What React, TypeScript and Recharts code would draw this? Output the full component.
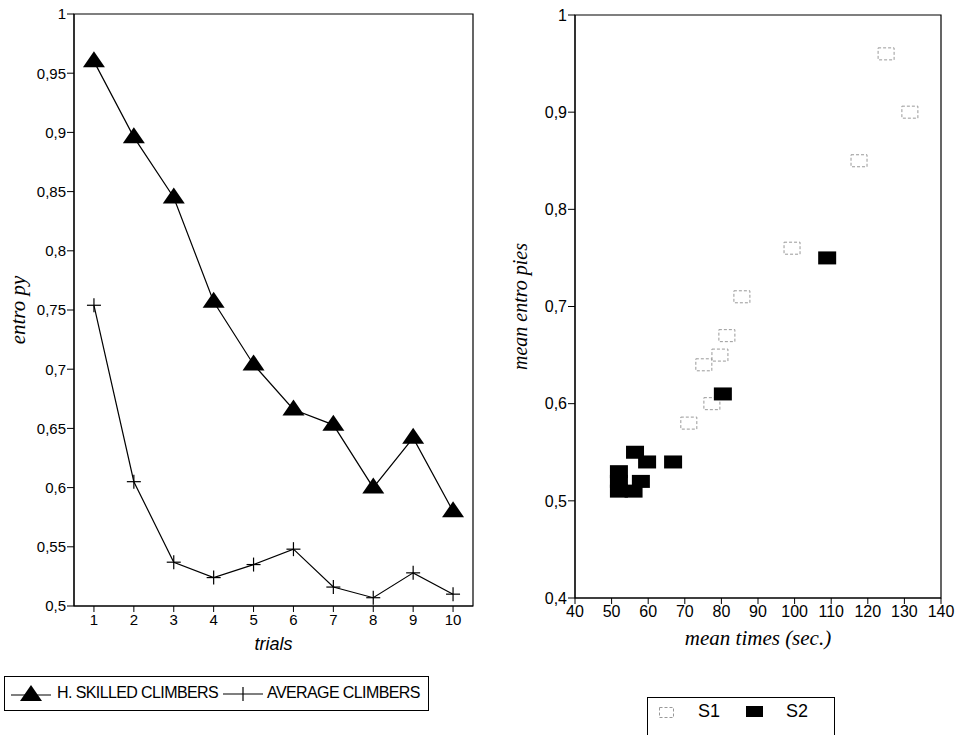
import React from 'react';
import { LineChart, Line, XAxis, YAxis, ReferenceArea, ScatterChart, Scatter, Label } from 'recharts';

// left panel: entropy per trial
const trials = [1, 2, 3, 4, 5, 6, 7, 8, 9, 10];
const skilledEntropy = [0.96, 0.896, 0.845, 0.757, 0.704, 0.666, 0.653, 0.6, 0.642, 0.58];
const averageEntropy = [0.754, 0.605, 0.537, 0.524, 0.535, 0.548, 0.516, 0.507, 0.528, 0.51];
const entropyTicks = [0.5, 0.55, 0.6, 0.65, 0.7, 0.75, 0.8, 0.85, 0.9, 0.95, 1];

// right panel: mean entropies vs mean times
const s1Times = [125, 131.5, 117.6, 99.3, 85.6, 81.5, 79.6, 75.2, 77.4, 71.1];
const s1Entropies = [0.96, 0.9, 0.85, 0.76, 0.71, 0.67, 0.65, 0.64, 0.6, 0.58];
const s2Times = [108.9, 80.4, 66.8, 59.7, 56.4, 58, 52, 52, 52, 56];
const s2Entropies = [0.75, 0.61, 0.54, 0.54, 0.55, 0.52, 0.53, 0.52, 0.51, 0.51];
const timeTicks = [40, 50, 60, 70, 80, 90, 100, 110, 120, 130, 140];
const meanEntropyTicks = [0.4, 0.5, 0.6, 0.7, 0.8, 0.9, 1];

const lineData = trials.map((t, i) => ({ trial: t, skilled: skilledEntropy[i], average: averageEntropy[i] }));
const s1Data = s1Times.map((t, i) => ({ time: t, entropy: s1Entropies[i] }));
const s2Data = s2Times.map((t, i) => ({ time: t, entropy: s2Entropies[i] }));

const SANS = '"Liberation Sans", Arial, sans-serif';
const SERIF = '"Liberation Serif", "Times New Roman", serif';

const comma = (v: number) => String(v).replace('.', ',');

const TriangleDot = (p: any) => {
  const { cx, cy, index } = p;
  if (cx == null || cy == null) return null;
  return <polygon key={`tri-${index}`} points={`${cx},${cy - 10} ${cx + 11},${cy + 6} ${cx - 11},${cy + 6}`} fill="#000" />;
};

const PlusDot = (p: any) => {
  const { cx, cy, index } = p;
  if (cx == null || cy == null) return null;
  return (
    <g key={`plus-${index}`} stroke="#000" strokeWidth={1.2}>
      <line x1={cx - 7} y1={cy} x2={cx + 7} y2={cy} />
      <line x1={cx} y1={cy - 7} x2={cx} y2={cy + 7} />
    </g>
  );
};

const OpenSquare = (p: any) => (
  <rect x={p.cx - 8} y={p.cy - 6} width={16} height={12} fill="none" stroke="#999" strokeWidth={1} strokeDasharray="3 2" />
);

const FilledSquare = (p: any) => (
  <rect x={p.cx - 9} y={p.cy - 6.5} width={18} height={13} fill="#000" />
);

const rotatedLabel = (text: string, dx: number, family: string, size: number) => (props: any) => {
  const vb = props.viewBox || { x: 0, y: 0, width: 0, height: 0 };
  const x = vb.x + dx;
  const y = vb.y + vb.height / 2;
  return (
    <text x={x} y={y} transform={`rotate(-90 ${x} ${y})`} textAnchor="middle" dominantBaseline="central"
      fontFamily={family} fontStyle="italic" fontSize={size} fill="#000">
      {text}
    </text>
  );
};

const tickStyle = { fontFamily: SANS, fontSize: 15, fill: '#000' };

export default function App() {
  return (
    <div style={{ position: 'absolute', left: 0, top: 0, width: 963, height: 735, background: '#fff', overflow: 'hidden' }}>
      {/* Left: entropy by trial */}
      <div style={{ position: 'absolute', left: 0, top: 0 }}>
        <LineChart width={480} height={660} data={lineData} margin={{ top: 14, right: 7, bottom: 10, left: 0 }}>
          <XAxis dataKey="trial" type="number" domain={[0.5, 10.5]} ticks={trials} height={44}
            stroke="#000" tick={tickStyle} tickSize={6} tickMargin={2}>
            <Label value="trials" position="insideBottom" offset={0}
              style={{ fontFamily: SANS, fontStyle: 'italic', fontSize: 18, fill: '#000' }} />
          </XAxis>
          <YAxis type="number" domain={[0.5, 1]} ticks={entropyTicks} width={74} tickFormatter={comma}
            stroke="#000" tick={tickStyle} tickSize={7} tickMargin={1}>
            <Label content={rotatedLabel('entro py', 18, SERIF, 21)} />
          </YAxis>
          <ReferenceArea x1={0.5} x2={10.5} y1={0.5} y2={1} fill="none" stroke="#000" strokeWidth={1.2} ifOverflow="visible" />
          <Line dataKey="skilled" type="linear" stroke="#000" strokeWidth={1.2} dot={TriangleDot} isAnimationActive={false} />
          <Line dataKey="average" type="linear" stroke="#000" strokeWidth={1.2} dot={PlusDot} isAnimationActive={false} />
        </LineChart>
      </div>

      <div style={{ position: 'absolute', left: 4, top: 676, width: 423, height: 33, border: '1px solid #000',
        fontFamily: SANS, fontSize: 16, letterSpacing: -0.6, color: '#000', whiteSpace: 'nowrap' }}>
        <svg width={44} height={20} style={{ position: 'absolute', left: 4, top: 7 }}>
          <line x1={2} y1={11} x2={42} y2={11} stroke="#000" strokeWidth={1.2} />
          <polygon points="22,1 33,17 11,17" fill="#000" />
        </svg>
        <span style={{ position: 'absolute', left: 52, top: 7 }}>H. SKILLED CLIMBERS</span>
        <svg width={44} height={20} style={{ position: 'absolute', left: 216, top: 7 }}>
          <line x1={2} y1={10} x2={42} y2={10} stroke="#000" strokeWidth={1.2} />
          <line x1={22} y1={3} x2={22} y2={17} stroke="#000" strokeWidth={1.2} />
        </svg>
        <span style={{ position: 'absolute', left: 262, top: 7 }}>AVERAGE CLIMBERS</span>
      </div>

      {/* Right: mean entropies vs mean times */}
      <div style={{ position: 'absolute', left: 480, top: 0 }}>
        <ScatterChart width={483} height={660} margin={{ top: 15, right: 22, bottom: 15, left: 0 }}>
          <XAxis dataKey="time" type="number" domain={[40, 140]} ticks={timeTicks} height={47}
            stroke="#000" tick={{ ...tickStyle, fontSize: 16 }} tickSize={6} tickMargin={2}>
            <Label value="mean times (sec.)" position="insideBottom" offset={0}
              style={{ fontFamily: SERIF, fontStyle: 'italic', fontSize: 21, fill: '#000' }} />
          </XAxis>
          <YAxis dataKey="entropy" type="number" domain={[0.4, 1]} ticks={meanEntropyTicks} width={95} tickFormatter={comma}
            stroke="#000" tick={{ ...tickStyle, fontSize: 16 }} tickSize={7} tickMargin={1}>
            <Label content={rotatedLabel('mean entro pies', 40, SERIF, 20)} />
          </YAxis>
          <ReferenceArea x1={40} x2={140} y1={0.4} y2={1} fill="none" stroke="#000" strokeWidth={1.2} ifOverflow="visible" />
          <Scatter name="S1" data={s1Data} shape={OpenSquare} isAnimationActive={false} />
          <Scatter name="S2" data={s2Data} shape={FilledSquare} isAnimationActive={false} />
        </ScatterChart>
      </div>

      <div style={{ position: 'absolute', left: 647, top: 697, width: 186, height: 40, border: '1px solid #000',
        fontFamily: SANS, fontSize: 18, color: '#000' }}>
        <svg width={16} height={12} style={{ position: 'absolute', left: 11, top: 9 }}>
          <rect x={0.5} y={0.5} width={14} height={10} fill="none" stroke="#999" strokeDasharray="3 2" />
        </svg>
        <span style={{ position: 'absolute', left: 50, top: 3 }}>S1</span>
        <svg width={17} height={11} style={{ position: 'absolute', left: 98, top: 8 }}>
          <rect x={0} y={0} width={17} height={11} fill="#000" />
        </svg>
        <span style={{ position: 'absolute', left: 138, top: 3 }}>S2</span>
      </div>
    </div>
  );
}
